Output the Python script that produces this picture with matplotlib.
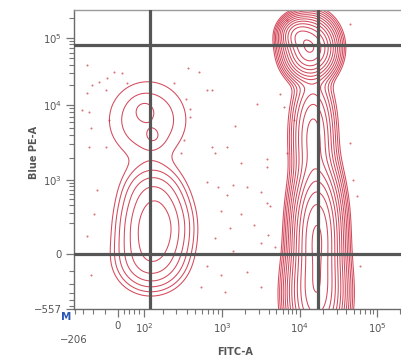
import numpy as np
import matplotlib
matplotlib.use("Agg")
import matplotlib.pyplot as plt
from matplotlib.transforms import blended_transform_factory

# ---- data (FITC-A, Blue PE-A in channel values) ----
# populations: centre value, spread (in plot units), relative weight
pop_fitc = [155, 129, 139, 117, 100, 145, 13500, 9430, 14800, 16600, 16200]
pop_pe = [173, -45, 700, 6320, 8580, 3760, 70900, 110800, 4000, 100, -323]
pop_sx = [19, 20, 17, 30, 7, 6, 11, 8, 10, 10.5, 12]
pop_sy = [24, 18, 15, 30, 7, 6, 13, 8, 28, 32, 25]
pop_w = [0.24, 0.10, 0.05, 0.045, 0.015, 0.015, 4.0, 1.5, 0.5, 4.0, 3.0]

levels = [0.02 * 1.55 ** k for k in range(16)]

# stray events outside the contour
dot_fitc = [-130, -15, 14, -42, -76, -108, -130, -47, 33, -122, -158, -112, -35, -47, -122,
            390, 437, 680, 410, 555, 280, 371, 340, 770, 1150, 1760, 2850, 1480, 437, 3800,
            680, 900, 1400, 1150, 2100, 3800, 3200, 980, 1760, 1260, 2600, 830, 3200, 1400,
            680, 980, 2100, 580, 1080, 3200, -130, -98, -112, -84,
            6200, 8400, 6900, 3800, 4140, 3950, 4800, 49000, 55000, 45000, 60000,
            6900, 45000, 770, 830, 5560]
dot_pe = [40000, 31000, 30000, 25500, 22000, 20000, 15000, 16700, 21000, 8000, 8600, 5000, 6320, 2750, 2750,
          12500, 8800, 16700, 36000, 31000, 21000, 3430, 2300, 2750, 2750, 1700, 10500, 5200, 7000, 1900,
          930, 780, 850, 590, 780, 430, 640, 320, 290, 160, 180, 90, 60, 15,
          -70, -125, -105, -230, -290, -230, 100, 290, -125, 690,
          9400, 6320, 2300, 1500, 390, 110, 35, 1000, 560, 3100, -70,
          185600, 160000, 16700, 2300, 14500]

gate_fitc = [130, 17100]
gate_pe = [0, 78700]

x_major = [0, 100, 1000, 10000, 100000]
x_major_lab = ["0", r"$10^2$", r"$10^3$", r"$10^4$", r"$10^5$"]
y_major = [-557, 0, 1000, 10000, 100000]
y_major_lab = ["\u2212557", "0", r"$10^3$", r"$10^4$", r"$10^5$"]
x_min, x_max = -206, 262143
y_min, y_max = -557, 262143


# logicle-like display: asinh, pinned to the tick positions of the original
def make_scale(vals, pix, c=150.0):
    u = np.arcsinh(np.asarray(vals, float) / c)
    p = np.asarray(pix, float)
    lo = p[0] - 50 * (p[1] - p[0]) / (u[1] - u[0])
    hi = p[-1] + 50 * (p[-1] - p[-2]) / (u[-1] - u[-2])
    u_ext = np.concatenate([[u[0] - 50], u, [u[-1] + 50]])
    p_ext = np.concatenate([[lo], p, [hi]])

    def fwd(v):
        return np.interp(np.arcsinh(np.asarray(v, float) / c), u_ext, p_ext)

    def inv(q):
        return c * np.sinh(np.interp(np.asarray(q, float), p_ext, u_ext))
    return fwd, inv


fx, ix = make_scale([-206, 0, 100, 1000, 1e4, 1e5, 1e6], [74, 118, 144, 222, 300, 377, 454])
fy, iy = make_scale([-557, 0, 1000, 1e4, 1e5, 1e6], [54, 109, 183, 258, 325, 392])

W, H = 402, 363
fig = plt.figure(figsize=(W / 100, H / 100), dpi=100)
x0, x1 = float(fx(x_min)), float(fx(x_max))
y0, y1 = float(fy(y_min)), float(fy(y_max))
ax = fig.add_axes([x0 / W, y0 / H, (x1 - x0) / W, (y1 - y0) / H])
ax.set_xscale("function", functions=(fx, ix))
ax.set_yscale("function", functions=(fy, iy))
ax.set_xlim(x_min, x_max)
ax.set_ylim(y_min, y_max)

# density on a grid that is even in display units
gx = np.arange(x0, x1, 0.5)
gy = np.arange(y0 - 40, y1, 0.5)
GX, GY = np.meshgrid(gx, gy)
Z = np.zeros_like(GX)
for cx, cy, sx, sy, w in zip(pop_fitc, pop_pe, pop_sx, pop_sy, pop_w):
    px, py = fx(cx), fy(cy)
    Z += w * np.exp(-0.5 * (((GX - px) / sx) ** 2 + ((GY - py) / sy) ** 2))
ax.contour(ix(gx), iy(gy), Z, levels=levels, colors="#cc2a40", linewidths=0.75, alpha=0.85, zorder=2)

ax.scatter(dot_fitc, dot_pe, s=2.2, c="#d9707a", linewidths=0, zorder=1)

for g in gate_fitc:
    ax.axvline(g, color="#565656", lw=2.3, zorder=4)
for g in gate_pe:
    ax.axhline(g, color="#565656", lw=2.3, zorder=4)

# ticks
x_minor = [-200, -150, -100, -50, 20, 40, 60, 80] + [k * 10 ** e for e in (2, 3, 4) for k in range(2, 10)] + [200000]
y_minor = [-500, -400, -300, -200, -100] + [k * 10 ** e for e in (2, 3, 4) for k in range(2, 10)] + [200000]
ax.set_xticks(x_major, x_major_lab)
ax.set_xticks(x_minor, minor=True)
ax.set_yticks(y_major, y_major_lab)
ax.set_yticks(y_minor, minor=True)
ax.tick_params(which="major", direction="out", length=6, width=0.9, color="#777777",
               labelsize=7.3, labelcolor="#555555", pad=2.5)
ax.tick_params(which="minor", direction="out", length=3.5, width=0.8, color="#777777")
for s in ax.spines.values():
    s.set_color("#6a6a6a")
    s.set_linewidth(1.0)
ax.spines["top"].set_color("#9a9a9a")

tr = blended_transform_factory(ax.transData, fig.transFigure)
ax.text(-206, 1 - 340 / H, "\u2212206", transform=tr, ha="center", va="center",
        fontsize=7.3, color="#555555")
fig.text(66 / W, 1 - 317 / H, "M", color="#2a56b8", fontsize=7.5, fontweight="bold",
         ha="center", va="center")
fig.text(235 / W, 1 - 352 / H, "FITC-A", color="#555555", fontsize=7, fontweight="bold",
         ha="center", va="center")
fig.text(34 / W, 1 - 152 / H, "Blue PE-A", color="#555555", fontsize=7, fontweight="bold",
         ha="center", va="center", rotation=90)

fig.savefig("out.png", dpi=100)
